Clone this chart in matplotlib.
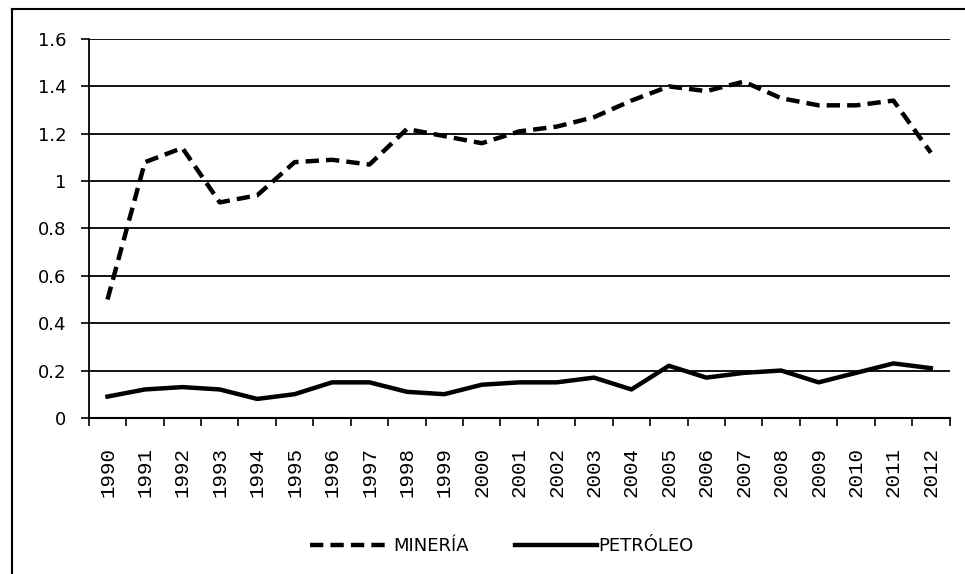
import matplotlib.pyplot as plt
from matplotlib.lines import Line2D

years = [str(y) for y in range(1990, 2013)]
mineria = [0.50, 1.08, 1.14, 0.91, 0.94, 1.08, 1.09, 1.07, 1.22, 1.19, 1.16, 1.21,
           1.23, 1.27, 1.34, 1.40, 1.38, 1.42, 1.35, 1.32, 1.32, 1.34, 1.12]
petroleo = [0.09, 0.12, 0.13, 0.12, 0.08, 0.10, 0.15, 0.15, 0.11, 0.10, 0.14, 0.15,
            0.15, 0.17, 0.12, 0.22, 0.17, 0.19, 0.20, 0.15, 0.19, 0.23, 0.21]
y_ticks = [0, 0.2, 0.4, 0.6, 0.8, 1, 1.2, 1.4, 1.6]
y_labels = ['0', '0.2', '0.4', '0.6', '0.8', '1', '1.2', '1.4', '1.6']

plt.rcParams['font.family'] = ['DejaVu Sans']
fig = plt.figure(figsize=(9.65, 5.74), dpi=100)
ax = fig.add_axes([0.092, 0.272, 0.892, 0.66])

x = list(range(len(years)))
ax.plot(x, mineria, color='black', linewidth=3.2, linestyle=(0, (3, 1.6)))
ax.plot(x, petroleo, color='black', linewidth=3.2)

ax.set_xlim(-0.5, len(years) - 0.5)
ax.set_ylim(0, 1.6)
ax.set_yticks(y_ticks)
ax.set_yticklabels(y_labels, fontsize=13)
for yv in y_ticks[1:]:
    ax.axhline(yv, color='black', linewidth=1.3, zorder=0)

ax.set_xticks(x)
ax.set_xticklabels(years, rotation=90, fontsize=15, family='Liberation Mono')
ax.set_xticks([i - 0.5 for i in range(len(years) + 1)], minor=True)
ax.tick_params(axis='x', which='major', length=0, pad=21)
ax.tick_params(axis='x', which='minor', length=6, width=1.2, direction='out')
ax.tick_params(axis='y', length=6, width=1.2, direction='out', pad=10)

for s in ['top', 'right']:
    ax.spines[s].set_visible(False)
ax.spines['left'].set_linewidth(1.3)
ax.spines['bottom'].set_linewidth(1.5)

handles = [Line2D([], [], color='black', linewidth=3.2, linestyle=(0, (3, 1.6))),
           Line2D([], [], color='black', linewidth=3.2)]
fig.legend(handles, ['MINERÍA', 'PETRÓLEO'], loc='center', bbox_to_anchor=(0.52, 0.048),
           ncol=2, frameon=False, fontsize=13, handlelength=4.5, handletextpad=0.1,
           columnspacing=2.6)

# outer frame like the scanned chart
fig.add_artist(Line2D([0.012, 1.0], [0.985, 0.985], color='black', linewidth=1.5))
fig.add_artist(Line2D([0.012, 0.012], [0.0, 0.985], color='black', linewidth=1.5))

fig.savefig('out.png', dpi=100)
